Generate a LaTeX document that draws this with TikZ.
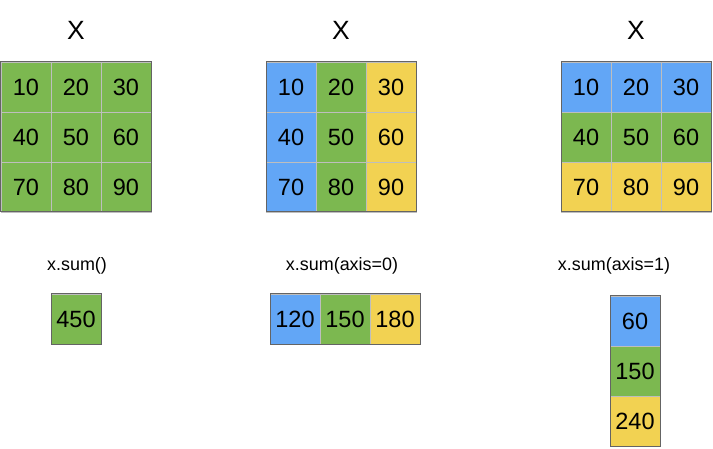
\documentclass[tikz,border=0pt]{standalone}
\usepackage{fontspec}
\setmainfont{Liberation Sans}
\definecolor{cgreen}{RGB}{124,184,80}
\definecolor{cblue}{RGB}{98,166,246}
\definecolor{cyellow}{RGB}{242,210,82}
\definecolor{inner}{RGB}{190,190,190}
\definecolor{outer}{RGB}{100,100,100}
\tikzset{
  cell/.style={draw=inner, line width=0.8bp, minimum width=50bp, minimum height=50bp, inner sep=0pt, outer sep=0pt, font=\fontsize{23.6}{24}\selectfont},
  frame/.style={draw=outer, line width=1bp},
  title/.style={font=\fontsize{26.5}{27}\selectfont, inner sep=0pt},
  lbl/.style={font=\fontsize{18}{19}\selectfont, inner sep=0pt},
}
\begin{document}
\begin{tikzpicture}[x=1bp, y=-1bp]
\useasboundingbox (0,0) rectangle (713,449);
% titles
\node[title] (t1) at (76,30) {X};
\node[title] (t2) at (341,30) {X};
\node[title] (t3) at (636,30) {X};
% grid 1 (all green)
\foreach \r in {1,2,3} \foreach \c in {1,2,3} {
  \pgfmathtruncatemacro\v{((\r-1)*3+\c)*10}
  \node[cell, fill=cgreen] (a-\r-\c) at ({1+25+(\c-1)*50},{62+25+(\r-1)*50}) {\v};
}
\draw[frame] (a-1-1.north west) rectangle (a-3-3.south east);
% grid 2 (columns)
\foreach \r in {1,2,3} \foreach \c/\col in {1/cblue,2/cgreen,3/cyellow} {
  \pgfmathtruncatemacro\v{((\r-1)*3+\c)*10}
  \node[cell, fill=\col] (b-\r-\c) at ({266+25+(\c-1)*50},{62+25+(\r-1)*50}) {\v};
}
\draw[frame] (b-1-1.north west) rectangle (b-3-3.south east);
% grid 3 (rows)
\foreach \r/\col in {1/cblue,2/cgreen,3/cyellow} \foreach \c in {1,2,3} {
  \pgfmathtruncatemacro\v{((\r-1)*3+\c)*10}
  \node[cell, fill=\col] (c-\r-\c) at ({561+25+(\c-1)*50},{62+25+(\r-1)*50}) {\v};
}
\draw[frame] (c-1-1.north west) rectangle (c-3-3.south east);
% labels
\node[lbl] (l1) at (77,266) {x.sum()};
\node[lbl] (l2) at (342,266) {x.sum(axis=0)};
\node[lbl] (l3) at (614,266) {x.sum(axis=1)};
% results
\node[cell, fill=cgreen] (s1) at (76,319) {450};
\draw[frame] (s1.north west) rectangle (s1.south east);
\node[cell, fill=cblue] (s2-1) at (295,319) {120};
\node[cell, fill=cgreen] (s2-2) at (345,319) {150};
\node[cell, fill=cyellow] (s2-3) at (395,319) {180};
\draw[frame] (s2-1.north west) rectangle (s2-3.south east);
\node[cell, fill=cblue] (s3-1) at (635,321) {60};
\node[cell, fill=cgreen] (s3-2) at (635,371) {150};
\node[cell, fill=cyellow] (s3-3) at (635,421) {240};
\draw[frame] (s3-1.north west) rectangle (s3-3.south east);
\end{tikzpicture}
\end{document}
